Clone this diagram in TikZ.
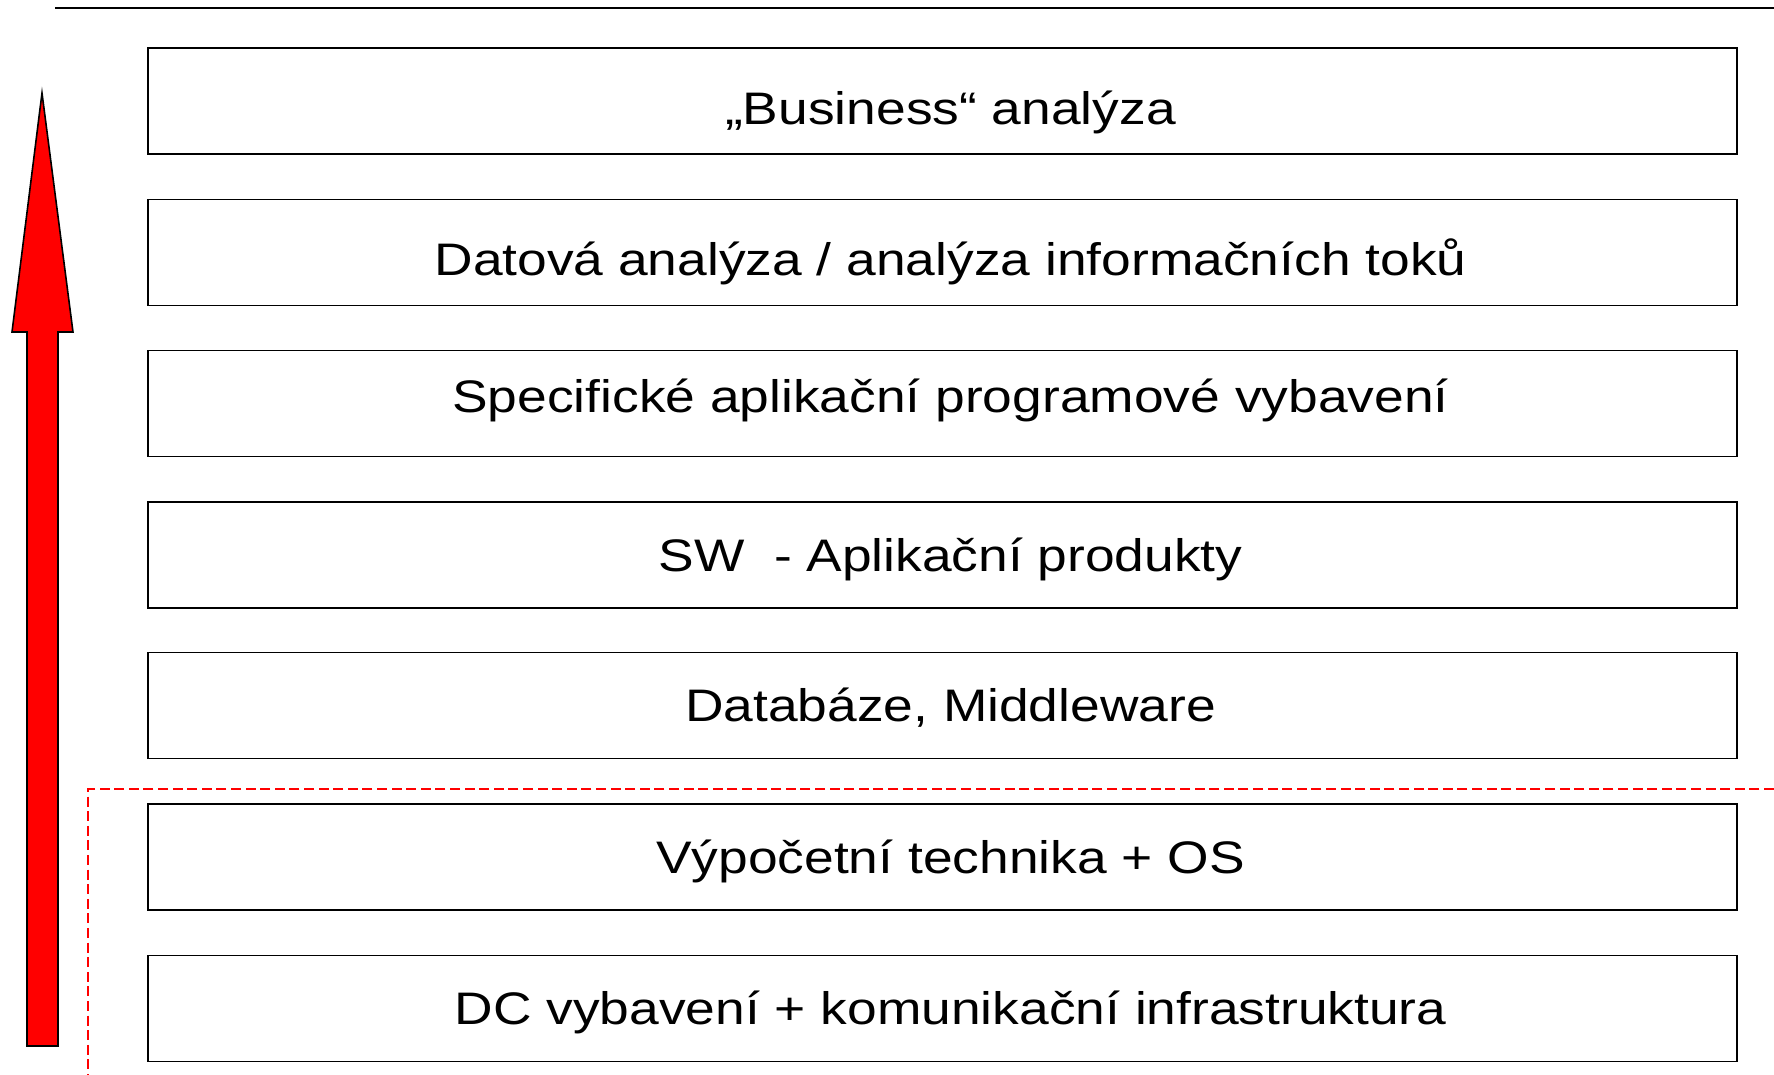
\documentclass[tikz,border=0pt]{standalone}
\usepackage{fontspec}
\setmainfont{Liberation Sans}[FakeStretch=1.17]
\usepackage{tikz}
\usetikzlibrary{positioning,calc}
\definecolor{ink}    {HTML}{000000}
\definecolor{signal} {HTML}{FF0000}
\tikzset{
  every node/.style={font=\fontsize{22.8}{27}\selectfont},
  % --- nodes
  layer/.style  = {draw=ink, line width=0.8pt, fill=white,
                   minimum width=794.5pt, minimum height=53pt, inner sep=0pt,
                   text height=16.3pt, text depth=0pt,
                   execute at begin node={\hspace*{8pt}}},
  lower/.style  = {layer, text height=23.3pt},
  upper/.style  = {layer, text depth=7pt},
  % --- lines
  rule/.style   = {draw=ink, line width=0.8pt},
  border/.style = {draw=signal, line width=0.9pt, dash pattern=on 5pt off 2.3pt},
  rise/.style   = {draw=ink, fill=signal, line width=0.8pt, line join=miter},
}
\begin{document}
\begin{tikzpicture}[x=0.5pt,y=-0.5pt]
  \useasboundingbox (0,0) rectangle (1774,1075);

  % --- separators
  \coordinate (topl) at (55,8);
  \coordinate (topr) at (1774,8);
  \draw[rule] (topl) -- (topr);

  \coordinate (hwr) at (1774,789);
  \coordinate (hwc) at (88,789);
  \coordinate (hwb) at (88,1075);
  \draw[border] (hwr) -- (hwc) -- (hwb);

  % --- layers, top to bottom
  \node[lower] (business) at (942.5,101)   {„Business“ analýza};
  \node[lower] (data)     at (942.5,252.5) {Datová analýza / analýza informačních toků};
  \node[upper] (custom)   at (942.5,403.5) {Specifické aplikační programové vybavení};
  \node[layer] (apps)     at (942.5,555)   {SW\ \ - Aplikační produkty};
  \node[layer] (db)       at (942.5,705.5) {Databáze, Middleware};
  \node[layer] (hw)       at (942.5,857)   {Výpočetní technika + OS};
  \node[layer] (dc)       at (942.5,1008.5){DC vybavení + komunikační infrastruktura};

  % --- upward arrow
  \draw[rise] (42,93) -- (73,332) -- (58,332) -- (58,1046) -- (27,1046)
              -- (27,332) -- (12,332) -- cycle;
\end{tikzpicture}
\end{document}
